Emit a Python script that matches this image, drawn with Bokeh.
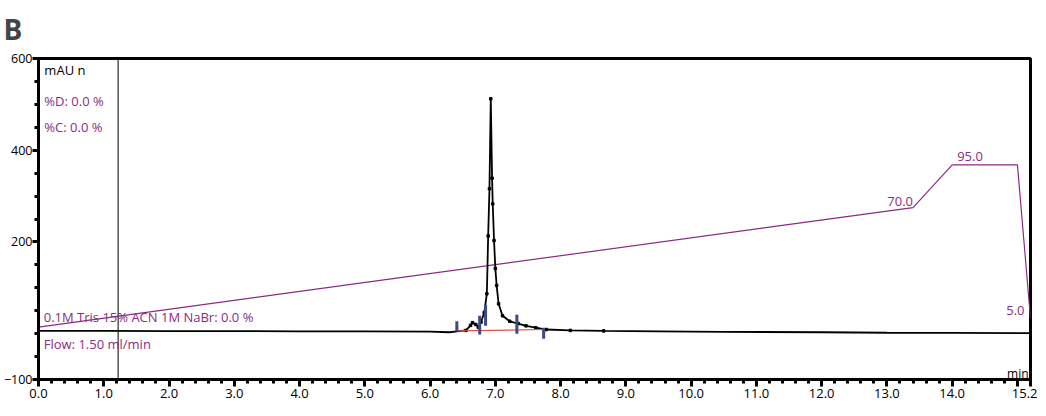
from bokeh.plotting import figure
from bokeh.models import Range1d, FixedTicker, Span, Label, ColumnDataSource, CustomJSTickFormatter
from bokeh.core.properties import value
from bokeh.embed import file_html
from bokeh.resources import INLINE

# ---- data ----
t_signal = [0.0, 1.0, 2.0, 3.0, 4.0, 5.0, 6.0, 6.3, 6.41, 6.55, 6.62, 6.65, 6.70, 6.74,
            6.78, 6.83, 6.87, 6.89, 6.91, 6.93, 6.95, 6.96, 6.98, 7.00, 7.02, 7.05,
            7.11, 7.22, 7.35, 7.47, 7.62, 7.78, 8.15, 8.66, 9.5, 10.5, 12.0, 13.0,
            14.0, 15.2]
mau_signal = [6, 6, 5.5, 5.5, 5, 5, 4.5, 3, 5, 7, 18, 24, 20, 14,
              25, 46, 87, 213, 316, 512, 339, 283, 203, 142, 105, 65,
              39, 27, 22, 17, 13, 9, 7, 6, 5, 4, 3, 2,
              1.5, 1]

t_gradient = [0.0, 13.4, 14.0, 15.0, 15.2]
pct_gradient = [0.0, 70.0, 95.0, 95.0, 5.0]

t_events = [6.41, 6.76, 6.85, 7.33, 7.74]
ev_top = [27, 39, 63, 41, 13]
ev_bottom = [5, -2, 17, 0, -11]

t_baseline = [6.41, 7.74]
mau_baseline = [6, 9]

injection_time = 1.22

x_major = [0, 1, 2, 3, 4, 5, 6, 7, 8, 9, 10, 11, 12, 13, 14, 15, 15.2]
y_major = [-100, 200, 400, 600]

PURPLE = "#8A2B82"
FONT = "Open Sans"

p = figure(width=1037, height=408, output_backend="svg", toolbar_location=None,
           x_range=Range1d(0, 15.2), y_range=Range1d(-100, 600),
           min_border_left=31, min_border_right=7, min_border_top=58, min_border_bottom=29)
p.extra_y_ranges = {"grad": Range1d(-30.7, 157.3)}

p.title.text = "B"
p.title.text_font = FONT
p.title.text_font_size = "28px"
p.title.text_font_style = "bold"
p.title.align = "left"
p.title.vertical_align = "top"
p.title.offset = -35
p.title.standoff = 17

p.xgrid.visible = False
p.ygrid.visible = False
p.outline_line_color = "black"
p.outline_line_width = 3
p.outline_line_alpha = 1

minor_x = [round(i * 0.2, 1) for i in range(77) if round(i * 0.2, 1) not in x_major]
p.xaxis.ticker = FixedTicker(ticks=x_major, minor_ticks=minor_x)
p.xaxis.formatter = CustomJSTickFormatter(code="return tick.toFixed(1);")
p.xaxis.major_label_overrides = {15: ""}

minor_y = [v for v in range(-100, 601, 50) if v not in y_major]
p.yaxis.ticker = FixedTicker(ticks=y_major, minor_ticks=minor_y)

for ax in (p.xaxis[0], p.yaxis[0]):
    ax.axis_line_width = 3
    ax.axis_line_color = "black"
    ax.major_tick_line_width = 3
    ax.minor_tick_line_width = 3
    ax.major_tick_in = 0
    ax.minor_tick_in = 0
    ax.major_tick_out = 7
    ax.minor_tick_out = 4
    ax.major_label_text_font = FONT
    ax.major_label_text_font_size = "13px"
    ax.major_label_text_color = "black"
    ax.major_label_standoff = 2

p.yaxis.major_label_text_font_size = "12.5px"
p.yaxis.major_tick_out = 6
p.yaxis.major_label_standoff = 0

# gradient line
p.line(t_gradient, pct_gradient, y_range_name="grad", line_color=PURPLE, line_width=1.2)
grad_src = ColumnDataSource(dict(x=[t_gradient[1]], y=[pct_gradient[1]], t=[f"{pct_gradient[1]:.1f}"]))
p.text("x", "y", "t", source=grad_src, y_range_name="grad", text_align="right",
       text_baseline="bottom", y_offset=-2, text_color=PURPLE,
       text_font=value(FONT), text_font_size="13px")
grad_src2 = ColumnDataSource(dict(x=[t_gradient[2]], y=[pct_gradient[2]], t=[f"{pct_gradient[2]:.1f}"]))
p.text("x", "y", "t", source=grad_src2, y_range_name="grad", text_align="left",
       text_baseline="bottom", x_offset=5, y_offset=-4, text_color=PURPLE,
       text_font=value(FONT), text_font_size="13px")
grad_src3 = ColumnDataSource(dict(x=[t_gradient[4]], y=[pct_gradient[4]], t=[f"{pct_gradient[4]:.1f}"]))
p.text("x", "y", "t", source=grad_src3, y_range_name="grad", text_align="right",
       text_baseline="bottom", x_offset=-6, y_offset=-4, text_color=PURPLE,
       text_font=value(FONT), text_font_size="13px")

# injection marker
p.add_layout(Span(location=injection_time, dimension="height", line_color="black", line_width=1))

# chromatogram
p.line(t_signal, mau_signal, line_color="black", line_width=1.8)
pk = [(t, m) for t, m in zip(t_signal, mau_signal) if 6.5 <= t <= 9.0]
p.scatter([a for a, b in pk], [b for a, b in pk], marker="square", size=2.5, color="black")

# integration baseline and event marks
p.line(t_baseline, mau_baseline, line_color="#E0504A", line_width=1.2)
p.segment(x0=t_events, y0=ev_bottom, x1=t_events, y1=ev_top, line_color="#3D4B82", line_width=3)

# texts
def lab(x, y, s, color=PURPLE, align="left", size="13px"):
    p.add_layout(Label(x=x, y=y, text=s, text_color=color, text_align=align,
                       text_baseline="middle", text_font=FONT, text_font_size=size))

lab(0.09, 576, "mAU n", color="black")
lab(0.09, 508, "%D: 0.0 %")
lab(0.09, 451, "%C: 0.0 %")
lab(0.08, 37, "0.1M Tris 15% ACN 1M NaBr: 0.0 %")
lab(0.08, -22, "Flow: 1.50 ml/min")
lab(15.17, -86, "min", color="black", align="right", size="12px")

open("out.html", "w").write(file_html(p, INLINE))
